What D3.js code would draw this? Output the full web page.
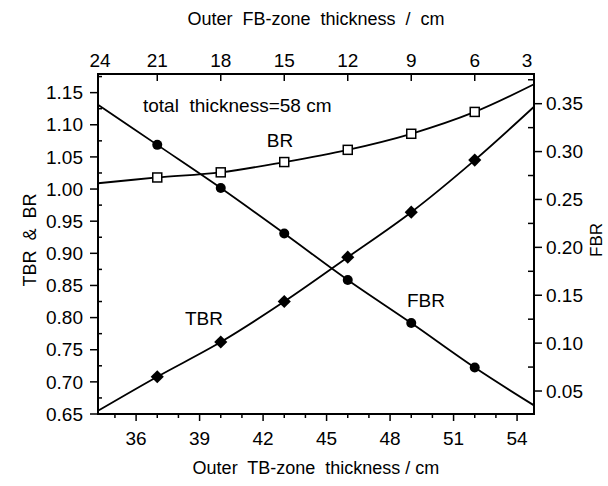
<!DOCTYPE html>
<html>
<head>
<meta charset="utf-8">
<script src="https://cdn.jsdelivr.net/npm/d3@7"></script>
<style>
body { margin: 0; background: #fff; }
svg text { font-family: "Liberation Sans", Arial, sans-serif; fill: #000; white-space: pre; }
</style>
</head>
<body>
<div id="chart"></div>
<script>
// outer TB-zone thickness (cm) where the markers sit
const tbZone = [37, 40, 43, 46, 49, 52];
const tbrValues = [0.708, 0.762, 0.825, 0.894, 0.964, 1.045];
const brValues = [1.018, 1.026, 1.042, 1.061, 1.086, 1.120];
const fbrValues = [0.307, 0.262, 0.2145, 0.166, 0.121, 0.0745];

// where the fitted curves meet the frame
const edgeTB = [34.2, 54.8];
const tbrEnds = [0.655, 1.128];
const brEnds = [1.009, 1.163];
const fbrEnds = [0.349, 0.035];

const totalThickness = 58;
const bottomTicks = [36, 39, 42, 45, 48, 51, 54];
const topTicks = [24, 21, 18, 15, 12, 9, 6, 3];
const leftTicks = [0.65, 0.70, 0.75, 0.80, 0.85, 0.90, 0.95, 1.00, 1.05, 1.10, 1.15];
const rightTicks = [0.05, 0.10, 0.15, 0.20, 0.25, 0.30, 0.35];

const width = 608, height = 486;
const box = { left: 98, right: 534, top: 74, bottom: 414 };

const x = d3.scaleLinear().domain(edgeTB).range([box.left, box.right]);
const xTop = d3.scaleLinear().domain(edgeTB.map(d => totalThickness - d)).range([box.left, box.right]);
const yL = d3.scaleLinear().domain([0.65, 1.179]).range([box.bottom, box.top]);
const yR = d3.scaleLinear().domain([0.026, 0.381]).range([box.bottom, box.top]);

const svg = d3.select("div#chart").append("svg")
    .attr("width", width)
    .attr("height", height);

// frame
svg.append("rect")
    .attr("x", box.left).attr("y", box.top)
    .attr("width", box.right - box.left).attr("height", box.bottom - box.top)
    .attr("fill", "none").attr("stroke", "black").attr("stroke-width", 2);

const ticks = svg.append("g").attr("stroke", "black").attr("stroke-width", 1.5);

// bottom axis: majors and unit minors, pointing out
ticks.selectAll(".bmin").data(d3.range(35, 55)).join("line")
    .attr("x1", d => x(d)).attr("x2", d => x(d))
    .attr("y1", box.bottom).attr("y2", d => box.bottom + (bottomTicks.includes(d) ? 7 : 4));
svg.selectAll(".blab").data(bottomTicks).join("text")
    .attr("x", d => x(d)).attr("y", 445)
    .attr("text-anchor", "middle").attr("font-size", 19)
    .text(d => d);

// top axis (outer FB zone = total - TB), ticks inside
ticks.selectAll(".tmaj").data(topTicks.filter(d => xTop(d) > box.left && xTop(d) < box.right)).join("line")
    .attr("x1", d => xTop(d)).attr("x2", d => xTop(d))
    .attr("y1", box.top).attr("y2", box.top + 7);
svg.selectAll(".tlab").data(topTicks).join("text")
    .attr("x", d => Math.max(box.left + 2, Math.min(box.right - 7, xTop(d))))
    .attr("y", 67)
    .attr("text-anchor", "middle").attr("font-size", 19)
    .text(d => d);

// left axis
ticks.selectAll(".lmaj").data(leftTicks).join("line")
    .attr("x1", box.left - 8).attr("x2", box.left)
    .attr("y1", d => yL(d)).attr("y2", d => yL(d));
ticks.selectAll(".lmin").data(leftTicks.map(d => d + 0.025).filter(d => d < 1.179)).join("line")
    .attr("x1", box.left).attr("x2", box.left + 4)
    .attr("y1", d => yL(d)).attr("y2", d => yL(d));
svg.selectAll(".llab").data(leftTicks).join("text")
    .attr("x", 83).attr("y", d => yL(d)).attr("dy", "0.35em")
    .attr("text-anchor", "end").attr("font-size", 19)
    .text(d => d.toFixed(2));

// right axis
ticks.selectAll(".rmaj").data(rightTicks).join("line")
    .attr("x1", box.right).attr("x2", box.right + 8)
    .attr("y1", d => yR(d)).attr("y2", d => yR(d));
ticks.selectAll(".rmin").data(rightTicks.map(d => d + 0.025).filter(d => d < 0.381)).join("line")
    .attr("x1", box.right - 6).attr("x2", box.right)
    .attr("y1", d => yR(d)).attr("y2", d => yR(d));
svg.selectAll(".rlab").data(rightTicks).join("text")
    .attr("x", 546).attr("y", d => yR(d)).attr("dy", "0.35em")
    .attr("font-size", 19)
    .text(d => d.toFixed(2));

// axis titles
svg.append("text").attr("x", 316).attr("y", 25).attr("text-anchor", "middle")
    .attr("font-size", 18).text("Outer  FB-zone  thickness  /  cm");
svg.append("text").attr("x", 316).attr("y", 474).attr("text-anchor", "middle")
    .attr("font-size", 18).text("Outer  TB-zone  thickness / cm");
svg.append("text").attr("transform", "translate(36,240) rotate(-90)").attr("text-anchor", "middle")
    .attr("font-size", 18).text("TBR  &  BR");
svg.append("text").attr("transform", "translate(602,240) rotate(-90)").attr("text-anchor", "middle")
    .attr("font-size", 17).text("FBR");

// curves
const withEnds = (vals, ends) => [[edgeTB[0], ends[0]]]
    .concat(tbZone.map((t, i) => [t, vals[i]]))
    .concat([[edgeTB[1], ends[1]]]);

const lineL = d3.line().x(d => x(d[0])).y(d => yL(d[1])).curve(d3.curveCatmullRom);
const lineR = d3.line().x(d => x(d[0])).y(d => yR(d[1])).curve(d3.curveCatmullRom);

const plot = svg.append("g");
plot.append("path").attr("d", lineL(withEnds(tbrValues, tbrEnds)))
    .attr("fill", "none").attr("stroke", "black").attr("stroke-width", 1.8);
plot.append("path").attr("d", lineL(withEnds(brValues, brEnds)))
    .attr("fill", "none").attr("stroke", "black").attr("stroke-width", 1.8);
plot.append("path").attr("d", lineR(withEnds(fbrValues, fbrEnds)))
    .attr("fill", "none").attr("stroke", "black").attr("stroke-width", 1.8);

// markers
plot.selectAll(".tbr").data(tbZone).join("path")
    .attr("transform", (d, i) => `translate(${x(d)},${yL(tbrValues[i])})`)
    .attr("d", d3.symbol(d3.symbolDiamond2, 110))
    .attr("fill", "black");
plot.selectAll(".fbr").data(tbZone).join("circle")
    .attr("cx", d => x(d)).attr("cy", (d, i) => yR(fbrValues[i]))
    .attr("r", 5).attr("fill", "black");
plot.selectAll(".br").data(tbZone).join("rect")
    .attr("x", d => x(d) - 4.5).attr("y", (d, i) => yL(brValues[i]) - 4.5)
    .attr("width", 9).attr("height", 9)
    .attr("fill", "white").attr("stroke", "black").attr("stroke-width", 1.5);

// labels inside the plot
svg.append("text").attr("x", 143).attr("y", 112).attr("font-size", 19).text("total  thickness=58 cm");
svg.append("text").attr("x", 280).attr("y", 147).attr("text-anchor", "middle").attr("font-size", 19).text("BR");
svg.append("text").attr("x", 204).attr("y", 325).attr("text-anchor", "middle").attr("font-size", 19).text("TBR");
svg.append("text").attr("x", 426).attr("y", 307).attr("text-anchor", "middle").attr("font-size", 19).text("FBR");
</script>
</body>
</html>
